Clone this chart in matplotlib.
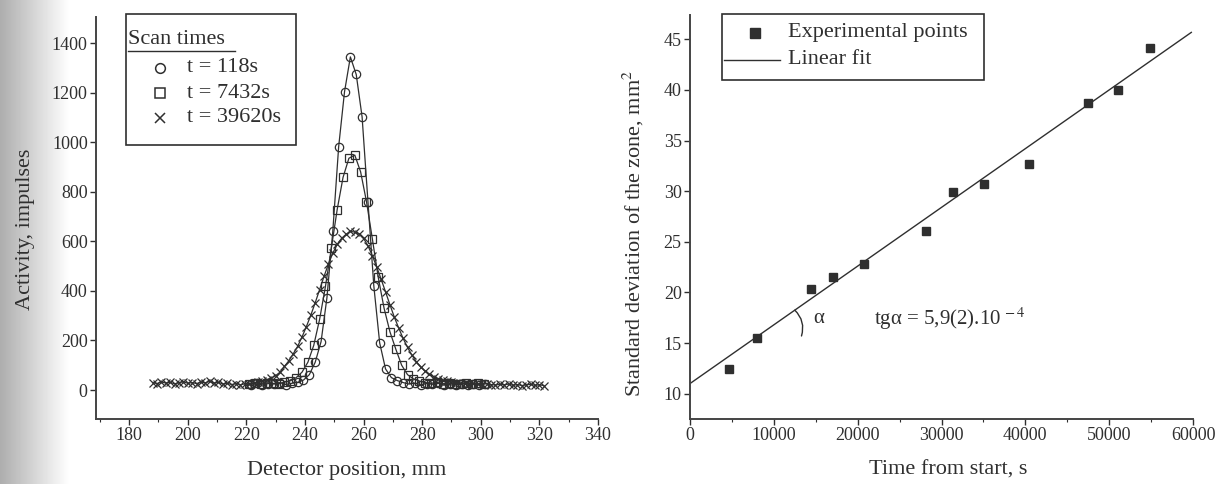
import numpy as np
import matplotlib.pyplot as plt
from matplotlib.lines import Line2D
from matplotlib.patches import Rectangle
from matplotlib.ticker import MultipleLocator

# --- left panel: activity profiles for three scan times ---
circ_x = [221.5, 223.5, 225.5, 227.5, 229.5, 231.5, 233.5, 235.5, 237.5, 239.5,
          241.5, 243.5, 245.5, 247.5, 249.5, 251.5, 253.5, 255.5, 257.5, 259.5,
          261.5, 263.5, 265.5, 267.5, 269.5, 271.5, 273.5, 275.5, 277.5, 279.5,
          281.5, 283.5, 285.5, 287.5, 289.5, 291.5, 293.5, 295.5, 297.5, 299.5, 301.5]
circ_y = [22, 28, 20, 26, 24, 30, 22, 27, 31, 40,
          62, 112, 195, 372, 640, 981, 1203, 1344, 1273, 1102,
          760, 420, 190, 85, 50, 38, 30, 24, 28, 21,
          26, 23, 27, 20, 25, 22, 26, 21, 24, 22, 25]

sq_x = [221, 223, 225, 227, 229, 231, 233, 235, 237, 239,
        241, 243, 245, 247, 249, 251, 253, 255, 257, 259,
        261, 263, 265, 267, 269, 271, 273, 275, 277, 279,
        281, 283, 285, 287, 289, 291, 293, 295, 297, 299, 301]
sq_y = [26, 30, 24, 29, 27, 25, 32, 37, 50, 72,
        112, 180, 285, 418, 572, 728, 858, 935, 948, 880,
        760, 610, 455, 330, 235, 165, 100, 62, 45, 36,
        30, 27, 31, 25, 29, 26, 24, 28, 25, 27, 24]

cross_x = [188, 189.5, 191, 192.5, 194, 195.5, 197, 198.5, 200, 201.5,
           203, 204.5, 206, 207.5, 209, 210.5, 212, 213.5, 215, 216.5,
           218, 219.5, 221, 222.5, 224, 225.5, 227, 228.5, 230, 231.5,
           233, 234.5, 236, 237.5, 239, 240.5, 242, 243.5, 245, 246.5,
           248, 249.5, 251, 252.5, 254, 255.5, 257, 258.5, 260, 261.5,
           263, 264.5, 266, 267.5, 269, 270.5, 272, 273.5, 275, 276.5,
           278, 279.5, 281, 282.5, 284, 285.5, 287, 288.5, 290, 291.5,
           293, 294.5, 296, 297.5, 299, 300.5, 302, 303.5, 305, 306.5,
           308, 309.5, 311, 312.5, 314, 315.5, 317, 318.5, 320, 321.5]
cross_y = [30, 26, 33, 28, 31, 25, 29, 34, 27, 30,
           26, 32, 29, 35, 28, 31, 24, 27, 22, 26,
           21, 25, 23, 27, 33, 36, 42, 48, 58, 72,
           95, 118, 146, 176, 214, 256, 302, 352, 405, 458,
           508, 552, 588, 612, 628, 640, 637, 630, 612, 582,
           542, 496, 447, 396, 344, 294, 250, 208, 172, 141,
           114, 93, 76, 63, 53, 45, 40, 36, 33, 30,
           27, 29, 25, 27, 23, 25, 26, 22, 20, 23,
           21, 24, 19, 22, 18, 21, 23, 19, 21, 18]

scan_labels = ["t = 118s", "t = 7432s", "t = 39620s"]

# --- right panel: zone variance vs time ---
time_s = [4700, 8000, 14400, 17000, 20700, 28100, 31400, 35100, 40400, 47500, 51000, 54900]
sigma2 = [12.4, 15.5, 20.3, 21.5, 22.8, 26.1, 29.9, 30.7, 32.7, 38.7, 40.0, 44.1]
fit_intercept = 11.0
fit_slope = 5.8e-4
fit_range = [0, 59800]

plt.rcParams['font.family'] = ['Liberation Serif', 'DejaVu Serif']
plt.rcParams['mathtext.fontset'] = 'stix'
INK = '#2f2f2f'
W, H = 1221, 484


def fx(px):
    return px / W


def fy(py):
    return 1 - py / H


fig = plt.figure(figsize=(W / 100, H / 100), dpi=100)

# scanner shading on the left edge
bg = fig.add_axes([0, 0, 1, 1], zorder=-10)
grad = np.ones((2, W))
edge = np.linspace(0.68, 1.0, 70)
grad[:, :70] = edge
bg.imshow(grad, cmap='gray', vmin=0, vmax=1, aspect='auto', extent=[0, 1, 0, 1])
bg.axis('off')

ax1 = fig.add_axes([fx(96), fy(419), (598 - 96) / W, (419 - 17) / H])
ax2 = fig.add_axes([fx(690), fy(419), (1193 - 690) / W, (419 - 15) / H])

for ax in (ax1, ax2):
    ax.patch.set_alpha(0)
    ax.spines['top'].set_visible(False)
    ax.spines['right'].set_visible(False)
    for s in ('left', 'bottom'):
        ax.spines[s].set_color('#444444')
        ax.spines[s].set_linewidth(1.4)
    ax.tick_params(direction='out', length=4, width=1, colors=INK, labelsize=13, pad=2)
    ax.tick_params(which='minor', direction='out', length=2.5, width=0.8, colors=INK)

# left panel
ax1.plot(cross_x, cross_y, color=INK, lw=0.9, marker='x', ms=5.5, mew=0.9)
ax1.plot(sq_x, sq_y, color=INK, lw=0.9, marker='s', ms=5.5, mfc='none', mew=0.9)
ax1.plot(circ_x, circ_y, color=INK, lw=0.9, marker='o', ms=6, mfc='none', mew=0.9)
ax1.set_xlim(168.7, 340)
ax1.set_ylim(-117, 1505)
ax1.xaxis.set_major_locator(MultipleLocator(20))
ax1.xaxis.set_minor_locator(MultipleLocator(10))
ax1.yaxis.set_major_locator(MultipleLocator(200))
ax1.set_xlabel("Detector position, mm", fontsize=16, color=INK, va='center')
ax1.set_ylabel("Activity, impulses", fontsize=16, color=INK, va='center')
ax1.xaxis.set_label_coords(0.5, (419 - 470) / 402)
ax1.yaxis.set_label_coords((26 - 96) / 502, (419 - 229) / 402)

# left legend, drawn by hand like the original
fig.add_artist(Rectangle((fx(126), fy(145)), 170 / W, 131 / H, transform=fig.transFigure,
                         fill=False, edgecolor=INK, lw=1.2))
fig.text(fx(128), fy(40), "Scan times", fontsize=16, color=INK, ha='left', va='center')
fig.add_artist(Line2D([fx(128), fx(235)], [fy(51), fy(51)], color=INK, lw=1))
for row, (lab, mk) in enumerate(zip(scan_labels, ['o', 's', 'x'])):
    yy = fy(68 + 25 * row)
    fig.add_artist(Line2D([fx(160)], [yy], marker=mk, ms=7, mfc='none', mec=INK, mew=1.1, ls='none'))
    fig.text(fx(187), yy, lab, fontsize=16, color=INK, ha='left', va='center')

# right panel
ax2.plot(time_s, sigma2, ls='none', marker='s', ms=6, color=INK)
fit_t = np.array(fit_range)
ax2.plot(fit_t, fit_intercept + fit_slope * fit_t, color=INK, lw=1)
ax2.set_xlim(0, 60000)
ax2.set_ylim(7.5, 47.4)
ax2.xaxis.set_major_locator(MultipleLocator(10000))
ax2.xaxis.set_minor_locator(MultipleLocator(5000))
ax2.yaxis.set_major_locator(MultipleLocator(5))
ax2.set_xlabel("Time from start, s", fontsize=16, color=INK, va='center')
ax2.set_ylabel("Standard deviation of the zone, mm$^2$", fontsize=16, color=INK, va='center')
ax2.xaxis.set_label_coords((948 - 690) / 503, (419 - 470) / 404)
ax2.yaxis.set_label_coords((633 - 690) / 503, (419 - 233) / 404)

# angle mark: arc from the fit line down to the horizontal
ax2.annotate("", xy=(12500, 18.25), xytext=(13300, 15.7),
             arrowprops=dict(arrowstyle='-', color=INK, lw=1, shrinkA=0, shrinkB=0,
                             connectionstyle='arc3,rad=0.3'))
ax2.text(15300, 17.4, "α", fontsize=15, color=INK, ha='center', va='center')
ax2.text(21900, 17.4, "tgα = 5,9(2).10$^{\\,-4}$", fontsize=15, color=INK, ha='left', va='center')

# right legend
fig.add_artist(Rectangle((fx(722), fy(80)), 262 / W, 66 / H, transform=fig.transFigure,
                         fill=False, edgecolor=INK, lw=1.2))
fig.add_artist(Line2D([fx(755)], [fy(33)], marker='s', ms=7, color=INK, ls='none'))
fig.add_artist(Line2D([fx(724), fx(780)], [fy(60), fy(60)], color=INK, lw=1))
fig.text(fx(788), fy(33), "Experimental points", fontsize=16, color=INK, ha='left', va='center')
fig.text(fx(788), fy(60), "Linear fit", fontsize=16, color=INK, ha='left', va='center')

fig.savefig("out.png", dpi=100)
